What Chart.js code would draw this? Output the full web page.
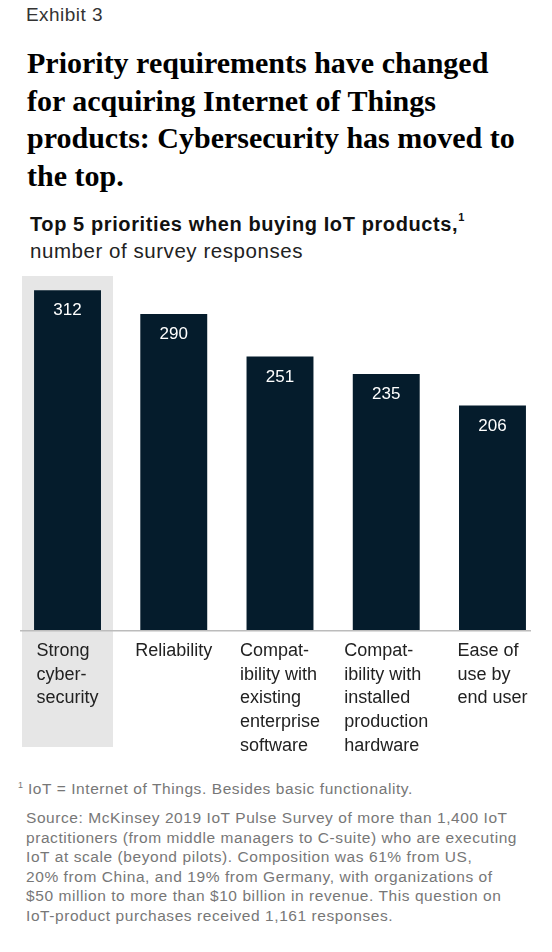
<!DOCTYPE html>
<html>
<head>
<meta charset="utf-8">
<script src="https://cdn.jsdelivr.net/npm/chart.js@4.4.1/dist/chart.umd.min.js"></script>
<style>
  html, body { margin: 0; padding: 0; background: #fff; }
  body { width: 552px; height: 952px; position: relative; overflow: hidden; font-family: "Liberation Sans", Arial, sans-serif; }
  .abs { position: absolute; white-space: nowrap; }
  #exhibit { left: 26px; top: 4px; font-size: 19px; letter-spacing: 0.45px; color: #333; }
  #title { left: 27px; top: 44px; font-family: "Liberation Serif", serif; font-weight: bold; font-size: 30px; line-height: 37.5px; color: #000; }
  #subtitle { left: 30px; top: 213px; font-size: 20px; letter-spacing: 0.6px; font-weight: bold; color: #111; }
  #subtitle sup { font-size: 11px; position: relative; top: -2px; letter-spacing: 0; }
  #units { left: 30px; top: 239px; font-size: 20.5px; letter-spacing: 0.55px; color: #222; }
  #chartWrap { position: absolute; left: 0; top: 276px; width: 552px; height: 484px; }
  #note1 { left: 18px; top: 780px; font-size: 15.5px; letter-spacing: 0.58px; color: #777; }
  #note1 sup { font-size: 9px; letter-spacing: 0; }
  #source { left: 26px; top: 808px; font-size: 15.5px; letter-spacing: 0.57px; line-height: 19.5px; color: #777; }
</style>
</head>
<body>
<div id="exhibit" class="abs">Exhibit 3</div>
<div id="title" class="abs">Priority requirements have changed<br>for acquiring Internet of Things<br>products: Cybersecurity has moved to<br>the top.</div>
<div id="subtitle" class="abs">Top 5 priorities when buying IoT products,<sup>1</sup></div>
<div id="units" class="abs">number of survey responses</div>
<div id="chartWrap"><canvas id="chart" width="552" height="484"></canvas></div>
<div id="note1" class="abs"><sup>1</sup> IoT = Internet of Things. Besides basic functionality.</div>
<div id="source" class="abs">Source: McKinsey 2019 IoT Pulse Survey of more than 1,400 IoT<br>practitioners (from middle managers to C-suite) who are executing<br>IoT at scale (beyond pilots). Composition was 61% from US,<br>20% from China, and 19% from Germany, with organizations of<br>$50 million to more than $10 billion in revenue. This question on<br>IoT-product purchases received 1,161 responses.</div>

<script>
const categories = [
  ["Strong", "cyber-", "security"],
  ["Reliability"],
  ["Compat-", "ibility with", "existing", "enterprise", "software"],
  ["Compat-", "ibility with", "installed", "production", "hardware"],
  ["Ease of", "use by", "end user"]
];
const responses = [312, 290, 251, 235, 206];
const highlighted = [0];

const BAR = "#051c2c";
const LABEL_FONT = '18px "Liberation Sans", Arial, sans-serif';

// grey panel behind the highlighted category, axis line, labels
const decor = {
  id: "decor",
  beforeDatasetsDraw(chart) {
    const { ctx, scales: { x } } = chart;
    ctx.save();
    ctx.fillStyle = "#e6e6e6";
    highlighted.forEach((i) => {
      const cx = x.getPixelForValue(i);
      ctx.fillRect(cx - 45.5, chart.chartArea.top, 91, 471);
    });
    ctx.restore();
  },
  afterDatasetsDraw(chart) {
    const { ctx, scales: { x, y } } = chart;
    const base = y.getPixelForValue(0);
    ctx.save();
    ctx.strokeStyle = "#bcbcbc";
    ctx.lineWidth = 1.5;
    ctx.beginPath();
    ctx.moveTo(x.getPixelForValue(0) - 47.5, base + 0.75);
    ctx.lineTo(x.getPixelForValue(categories.length - 1) + 38.5, base + 0.75);
    ctx.stroke();

    // values inside bar tops
    ctx.fillStyle = "#fff";
    ctx.font = '17px "Liberation Sans", Arial, sans-serif';
    ctx.textAlign = "center";
    ctx.textBaseline = "alphabetic";
    responses.forEach((v, i) => {
      ctx.fillText(String(v), x.getPixelForValue(i), y.getPixelForValue(v) + 25);
    });

    // category labels: block centred under the bar, lines left-aligned
    ctx.fillStyle = "#222";
    ctx.font = LABEL_FONT;
    ctx.textAlign = "left";
    categories.forEach((lines, i) => {
      const w = Math.max(...lines.map((l) => ctx.measureText(l).width));
      const left = x.getPixelForValue(i) - w / 2;
      lines.forEach((l, j) => {
        ctx.fillText(l, left, base + 26 + j * 23.7);
      });
    });
    ctx.restore();
  }
};

new Chart(document.getElementById("chart"), {
  type: "bar",
  data: {
    labels: categories.map((c) => c.join(" ")),
    datasets: [{
      data: responses,
      backgroundColor: BAR,
      borderWidth: 0,
      barPercentage: 0.63,
      categoryPercentage: 1
    }]
  },
  options: {
    responsive: false,
    animation: false,
    layout: { padding: { left: 14.4, right: 6.4, top: 0, bottom: 130 } },
    plugins: { legend: { display: false }, tooltip: { enabled: false } },
    scales: {
      x: { display: false },
      y: { display: false, min: 0, max: 325 }
    }
  },
  plugins: [decor]
});
</script>
</body>
</html>
